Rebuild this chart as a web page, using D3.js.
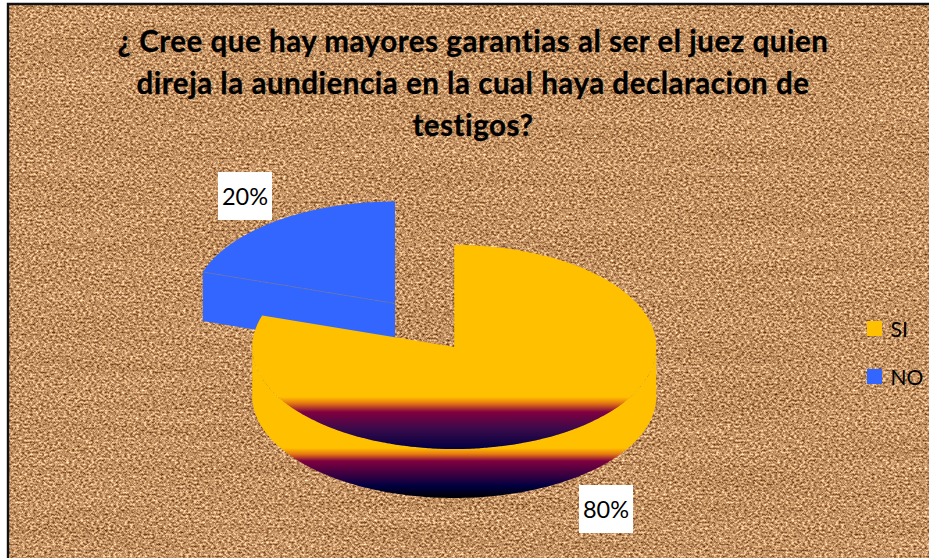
<!DOCTYPE html>
<html>
<head>
<meta charset="utf-8">
<script src="https://cdn.jsdelivr.net/npm/d3@7"></script>
<style>
  html, body { margin: 0; padding: 0; background: #fff; overflow: hidden; }
  text { font-family: Lato, "Open Sans", sans-serif; fill: #000; }
</style>
</head>
<body>
<svg id="chart" width="929" height="558"></svg>
<script>
// Survey question and answers
const titleLines = [
  "¿ Cree que hay mayores garantias al ser el juez quien",
  "direja la aundiencia en la cual haya declaracion de",
  "testigos?"
];
const categories = ["SI", "NO"];
const shares = [80, 20];
const sliceColors = ["#FFC000", "#3366FF"];

const svg = d3.select("#chart");
const defs = svg.append("defs");

// Cork-like background fill: fine grain crossed by faint horizontal bands
const cork = defs.append("filter").attr("id", "cork")
  .attr("x", 0).attr("y", 0).attr("width", "100%").attr("height", "100%")
  .attr("color-interpolation-filters", "sRGB");
cork.append("feTurbulence").attr("type", "fractalNoise")
  .attr("baseFrequency", "0.36 0.5").attr("numOctaves", 3).attr("seed", 7).attr("result", "grain");
cork.append("feColorMatrix").attr("in", "grain").attr("type", "matrix")
  .attr("values", "1.1 0 0 0 0.21  1.1 0 0 0 0.02  1.0 0 0 0 -0.11  0 0 0 0 1")
  .attr("result", "tinted");
cork.append("feTurbulence").attr("type", "fractalNoise")
  .attr("baseFrequency", "0.006 0.08").attr("numOctaves", 1).attr("seed", 3);
cork.append("feColorMatrix").attr("type", "matrix")
  .attr("values", "1 0 0 0 0  1 0 0 0 0  1 0 0 0 0  0 0 0 0 1")
  .attr("result", "bands");
cork.append("feComposite").attr("in", "tinted").attr("in2", "bands")
  .attr("operator", "arithmetic").attr("k1", 0).attr("k2", 1).attr("k3", 0.1).attr("k4", -0.05)
  .attr("result", "mixed");
cork.append("feColorMatrix").attr("in", "mixed").attr("type", "matrix")
  .attr("values", "1 0 0 0 0  0 1 0 0 0  0 0 1 0 0  0 0 0 0 1");

// Shaded band used on the lower part of the pie
function band(id, y0, stops) {
  const g = defs.append("linearGradient").attr("id", id)
    .attr("gradientUnits", "userSpaceOnUse")
    .attr("x1", 0).attr("x2", 0).attr("y1", y0).attr("y2", y0 + 100);
  stops.forEach(([o, c]) => g.append("stop").attr("offset", o).attr("stop-color", c));
}
band("faceShade", 349, [
  [0.48, "#FFC000"], [0.54, "#E87A10"], [0.63, "#800040"], [0.80, "#3A0A4A"], [1, "#000040"]
]);
band("wallShade", 398, [
  [0.50, "#FFC000"], [0.56, "#E87A10"], [0.63, "#800040"], [0.88, "#000040"], [1, "#000000"]
]);

// Frame and background
svg.append("rect").attr("x", 8).attr("y", 4).attr("width", 921).attr("height", 554)
  .attr("filter", "url(#cork)");
svg.append("path").attr("d", "M8,558V4H929").attr("fill", "none")
  .attr("stroke", "#111").attr("stroke-width", 2.4);

// Title
svg.append("g").selectAll("text").data(titleLines).join("text")
  .attr("x", 473).attr("y", (d, i) => 52 + i * 42)
  .attr("text-anchor", "middle")
  .attr("font-size", 29.5).attr("font-weight", 700).attr("letter-spacing", 0.53)
  .attr("stroke", "#000").attr("stroke-width", 0.3)
  .text(d => d);

// Pie geometry: tilted disc, with the NO slice pulled out of the centre
const rx = 202, ry = 102, depth = 49;
const centres = [{ x: 454.3, y: 347 }, { x: 395, y: 303.5 }];
const angles = d3.pie().sort(null).value(d => d)(shares);
const xScale = d3.scaleLinear().domain([-1, 1]).range([-rx, rx]);
const yScale = d3.scaleLinear().domain([-1, 1]).range([-ry, ry]);
const rim = (c, a, dy = 0) => [c.x + xScale(Math.sin(a)), c.y + yScale(-Math.cos(a)) + dy];

function sector(c, s) {
  const p = d3.path();
  p.moveTo(c.x, c.y);
  d3.range(0, 121).forEach(i => {
    const [x, y] = rim(c, s.startAngle + (s.endAngle - s.startAngle) * i / 120);
    p.lineTo(x, y);
  });
  p.closePath();
  return p.toString();
}

// Curved outer wall of a slice, limited to the part facing the viewer
function wall(c, s) {
  const a0 = Math.max(s.startAngle, Math.PI / 2), a1 = Math.min(s.endAngle, 3 * Math.PI / 2);
  const steps = d3.range(0, 121).map(i => a0 + (a1 - a0) * i / 120);
  const pts = steps.map(a => rim(c, a)).concat(steps.slice().reverse().map(a => rim(c, a, depth)));
  return d3.line()(pts) + "Z";
}

// NO slice: cut face first, then its top
const noCentre = centres[1], noSlice = angles[1];
const noEdge = rim(noCentre, noSlice.startAngle);
svg.append("path")
  .attr("d", d3.line()([noEdge, [noCentre.x, noCentre.y], [noCentre.x, noCentre.y + depth], [noEdge[0], noEdge[1] + depth]]) + "Z")
  .attr("fill", sliceColors[1]);
svg.append("path").attr("d", sector(noCentre, noSlice)).attr("fill", sliceColors[1]);
svg.append("line")
  .attr("x1", noEdge[0]).attr("y1", noEdge[1]).attr("x2", noCentre.x).attr("y2", noCentre.y)
  .attr("stroke", "#6275B5").attr("stroke-width", 0.8);

// SI slice: outer wall, then its top
const siCentre = centres[0], siSlice = angles[0];
svg.append("path").attr("d", wall(siCentre, siSlice)).attr("fill", "url(#wallShade)");
svg.append("path").attr("d", sector(siCentre, siSlice)).attr("fill", "url(#faceShade)");

// Value labels on white boxes
const labelBoxes = [{ x: 579, y: 485 }, { x: 218, y: 172 }];
const labels = svg.append("g").selectAll("g").data(shares).join("g")
  .attr("transform", (d, i) => `translate(${labelBoxes[i].x},${labelBoxes[i].y})`);
labels.append("rect").attr("width", 54).attr("height", 48).attr("fill", "#fff");
labels.append("text").attr("x", 27).attr("y", 33).attr("text-anchor", "middle")
  .attr("font-size", 23.5).text(d => d + "%");

// Legend
const legendY = d3.scalePoint().domain(categories).range([321, 369]);
const legend = svg.append("g").selectAll("g").data(categories).join("g")
  .attr("transform", d => `translate(867,${legendY(d)})`);
legend.append("rect").attr("width", 15).attr("height", 15)
  .attr("fill", (d, i) => sliceColors[i]);
legend.append("text").attr("x", 23.5).attr("y", 16).attr("font-size", 21).text(d => d);
</script>
</body>
</html>
